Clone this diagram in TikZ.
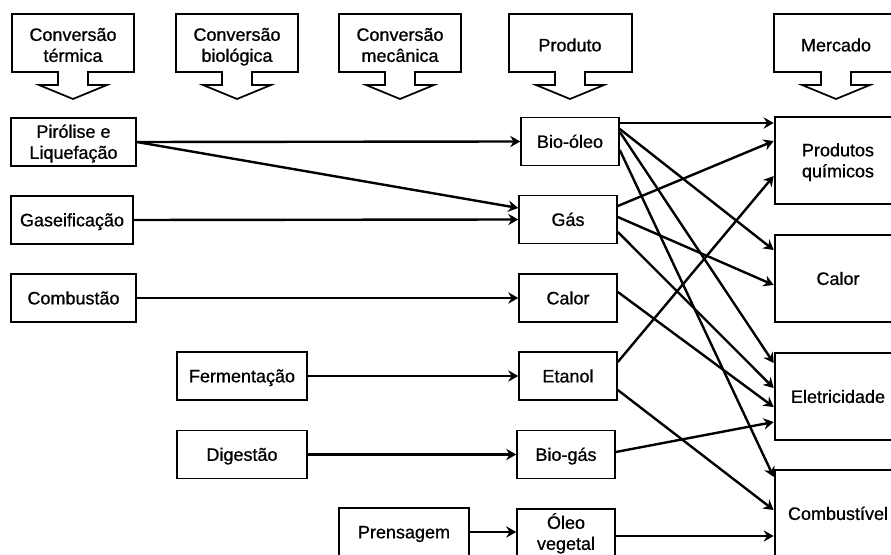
\documentclass[tikz,border=0pt]{standalone}
\usepackage{fontspec}
\setmainfont{Liberation Sans}
\newfontfamily\dfont[FakeBold=0.8]{Liberation Sans}
\usetikzlibrary{arrows.meta}
\newcommand{\HdrShape}[3]{%
  \draw[hdr] (#1,14) -- (#2,14) -- (#2,72) -- (#3+15,72) -- (#3+15,85) -- (#3+34,85)
    -- (#3,99) -- (#3-34,85) -- (#3-15,85) -- (#3-15,72) -- (#1,72) -- cycle;}
\newcommand{\st}{\vrule width 0pt height 12.3pt depth 2.7pt\relax}
\begin{document}
\begin{tikzpicture}[x=0.75pt,y=-0.75pt,
  font=\dfont\fontsize{13.5}{15.75}\selectfont,
  box/.style={draw, line width=1.2pt, inner sep=0pt, align=center, minimum height=36pt},
  big/.style={draw, line width=2pt, inner sep=0pt, align=center, minimum width=94.5pt, minimum height=65.25pt},
  hdr/.style={draw, line width=1.3pt, line join=miter},
  lbl/.style={align=center, inner sep=0pt},
  con/.style={line width=1.8pt, -{Stealth[length=7.5pt,width=8.5pt,inset=2.5pt]}}
]
\useasboundingbox (0,0) rectangle (891,555);
\clip (0,0) rectangle (891,555);

% headers
\HdrShape{12}{134}{73}
\HdrShape{176}{298}{237}
\HdrShape{339}{461}{400}
\HdrShape{509}{632}{570}
\HdrShape{774}{897}{836}
\node[lbl] (h1) at (73,45) {Conversão\st\\térmica\st};
\node[lbl] (h2) at (237,45) {Conversão\st\\biológica\st};
\node[lbl] (h3) at (400,45) {Conversão\st\\mecânica\st};
\node[lbl] (h4) at (570,45) {Produto\st};
\node[lbl] (h5) at (836,45) {Mercado\st};

% left column
\node[box, minimum width=93.75pt] (pl) at (73.5,142) {Pirólise e\st\\Liquefação\st};
\node[box, minimum width=91.5pt] (gs) at (72,220) {Gaseificação\st};
\node[box, minimum width=93.75pt] (cb) at (73.5,298) {Combustão\st};
\node[box, minimum width=97.5pt] (fe) at (242,376) {Fermentação\st};
\node[box, minimum width=97.5pt] (dg) at (242,454.5) {Digestão\st};
\node[box, minimum width=97.5pt] (pr) at (404,532) {Prensagem\st};

% middle column
\node[box, minimum width=73.5pt] (bo) at (570,141.5) {Bio-óleo\st};
\node[box, minimum width=73.5pt] (ga) at (568,219.5) {Gás\st};
\node[box, minimum width=73.5pt] (ca) at (568,298) {Calor\st};
\node[box, minimum width=73.5pt] (et) at (568,376) {Etanol\st};
\node[box, minimum width=73.5pt] (bg) at (566,454.5) {Bio-gás\st};
\node[box, minimum width=73.5pt] (ov) at (566,533) {Óleo\st\\vegetal\st};

% right column
\node[big] (pq) at (838,160.5) {Produtos\st\\químicos\st};
\node[big] (cr) at (838,278.5) {Calor\st};
\node[big] (el) at (838,396.5) {Eletricidade\st};
\node[big] (co) at (838,513.5) {Combustível\st};

% left to middle
\draw[con] (pl.east) -- (bo.west);
\draw[con] (pl.east) -- (ga.west |- 0,208);
\draw[con] (gs.east) -- (ga.west);
\draw[con] (cb.east) -- (ca.west);
\draw[con] (fe.east) -- (et.west);
\draw[con] (dg.east) -- (bg.west);
\draw[con] (pr.east) -- (ov.west |- 0,532);

% middle to right
\draw[con] (bo.east |- 0,123) -- (pq.west |- 0,123);
\draw[con] (bo.east |- 0,129) -- (cr.west |- 0,250);
\draw[con] (bo.east |- 0,132) -- (el.west |- 0,363);
\draw[con] (bo.east |- 0,150) -- (co.west |- 0,477);
\draw[con] (ga.east |- 0,206) -- (pq.west |- 0,141);
\draw[con] (ga.east |- 0,217) -- (cr.west |- 0,285);
\draw[con] (ga.east |- 0,232) -- (el.west |- 0,388);
\draw[con] (ca.east |- 0,292) -- (el.west |- 0,407);
\draw[con] (et.east |- 0,362) -- (pq.west |- 0,176);
\draw[con] (et.east |- 0,390) -- (co.west |- 0,510);
\draw[con] (bg.east |- 0,452) -- (el.west |- 0,422);
\draw[con] (ov.east |- 0,536) -- (co.west |- 0,536);
\end{tikzpicture}
\end{document}
